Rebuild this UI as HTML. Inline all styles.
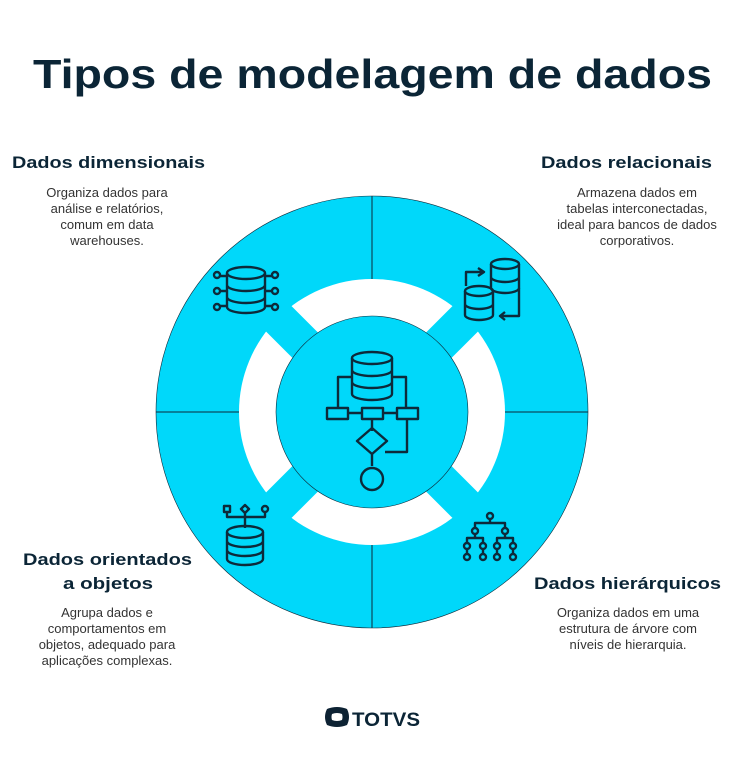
<!DOCTYPE html>
<html><head><meta charset="utf-8"><style>
html,body{margin:0;padding:0;background:#fff;}
svg{display:block}
.t{font-family:"Liberation Sans",sans-serif;font-weight:bold;fill:#0b2536}
.b{font-family:"Liberation Sans",sans-serif;font-size:13px;fill:#333;text-anchor:middle}
.ic{fill:none;stroke:#0d2a3a;stroke-width:2.4;stroke-linejoin:round}
</style></head><body>
<svg width="745" height="760" viewBox="0 0 745 760" xmlns="http://www.w3.org/2000/svg">
<text class="t" x="33" y="88" font-size="41" textLength="679" lengthAdjust="spacingAndGlyphs">Tipos de modelagem de dados</text>

<text class="t" x="12" y="168" font-size="17" textLength="193" lengthAdjust="spacingAndGlyphs">Dados dimensionais</text>
<text class="b" x="107" y="197">Organiza dados para</text>
<text class="b" x="107" y="213">análise e relatórios,</text>
<text class="b" x="107" y="229">comum em data</text>
<text class="b" x="107" y="245">warehouses.</text>

<text class="t" x="541" y="168" font-size="17" textLength="171" lengthAdjust="spacingAndGlyphs">Dados relacionais</text>
<text class="b" x="637" y="197">Armazena dados em</text>
<text class="b" x="637" y="213">tabelas interconectadas,</text>
<text class="b" x="637" y="229">ideal para bancos de dados</text>
<text class="b" x="637" y="245">corporativos.</text>

<text class="t" x="23" y="565" font-size="17" textLength="169" lengthAdjust="spacingAndGlyphs">Dados orientados</text>
<text class="t" x="63" y="589" font-size="17" textLength="90" lengthAdjust="spacingAndGlyphs">a objetos</text>
<text class="b" x="107" y="617">Agrupa dados e</text>
<text class="b" x="107" y="633">comportamentos em</text>
<text class="b" x="107" y="649">objetos, adequado para</text>
<text class="b" x="107" y="665">aplicações complexas.</text>

<text class="t" x="534" y="589" font-size="17" textLength="187" lengthAdjust="spacingAndGlyphs">Dados hierárquicos</text>
<text class="b" x="628" y="617">Organiza dados em uma</text>
<text class="b" x="628" y="633">estrutura de árvore com</text>
<text class="b" x="628" y="649">níveis de hierarquia.</text>

<circle cx="372" cy="412" r="216" fill="#00d8fa" stroke="#0d2a3a" stroke-width="0.6"/>
<circle cx="372" cy="412" r="133" fill="#fff"/>
<g fill="#00d8fa">
<rect x="354" y="270" width="36" height="284" transform="rotate(45 372 412)"/>
<rect x="354" y="270" width="36" height="284" transform="rotate(-45 372 412)"/>
</g>
<circle cx="372" cy="412" r="96" fill="#00d8fa" stroke="#0d2a3a" stroke-width="0.6"/>
<g stroke="#0d2a3a" stroke-width="1">
<line x1="372" y1="196" x2="372" y2="279"/>
<line x1="372" y1="545" x2="372" y2="628"/>
<line x1="156" y1="412" x2="239" y2="412"/>
<line x1="505" y1="412" x2="588" y2="412"/>
</g>

<g class="ic" stroke-width="3.2">
<ellipse cx="372" cy="358" rx="20" ry="6"/>
<path d="M352 358v36a20 6 0 0 0 40 0v-36M352 370a20 6 0 0 0 40 0M352 382a20 6 0 0 0 40 0"/>
<path d="M352 377h-14v30M392 377h14v30"/>
<rect x="327" y="408" width="21" height="11"/><rect x="362" y="408" width="21" height="11"/><rect x="397" y="408" width="21" height="11"/>
<path d="M348 413h14M383 413h14M372 419v12M407 419v33h-22"/>
<path d="M372 428l15 13-15 13-15-13z"/>
<path d="M372 454v12"/><circle cx="372" cy="479" r="11"/>
</g>

<g class="ic">
<ellipse cx="246" cy="273" rx="19" ry="6"/>
<path d="M227 273v34a19 6 0 0 0 38 0v-34M227 285a19 6 0 0 0 38 0M227 297a19 6 0 0 0 38 0"/>
<path d="M227 276h-8M227 291h-8M227 306h-8M265 276h8M265 291h8M265 306h8"/>
<circle cx="217" cy="275" r="3"/><circle cx="217" cy="291" r="3"/><circle cx="217" cy="307" r="3"/>
<circle cx="275" cy="275" r="3"/><circle cx="275" cy="291" r="3"/><circle cx="275" cy="307" r="3"/>
</g>
<g class="ic" stroke-width="1.8">
<ellipse cx="505" cy="264" rx="14" ry="5"/>
<path d="M491 264v24a14 5 0 0 0 28 0v-24M491 277a14 5 0 0 0 28 0"/>
<ellipse cx="479" cy="291" rx="14" ry="5"/>
<path d="M465 291v24a14 5 0 0 0 28 0v-24M465 304a14 5 0 0 0 28 0"/>
<path d="M466 286v-14h17M478 268l6 4-6 4M519 288v28h-17M505 312l-5 4 5 4"/>
</g>
<g class="ic">
<rect x="224" y="506" width="6" height="6"/><path d="M245 505l4 4-4 4-4-4z"/><circle cx="265" cy="509" r="3"/>
<path d="M227 512v5h38v-5M245 513v15"/>
<ellipse cx="245" cy="532" rx="18" ry="6"/>
<path d="M227 532v27a18 6 0 0 0 36 0v-27M227 541a18 6 0 0 0 36 0M227 550a18 6 0 0 0 36 0"/>
</g>
<g class="ic" stroke-width="1.8">
<circle cx="490" cy="516" r="3"/><path d="M490 519v4h-15v6M490 523h15v6"/>
<circle cx="475" cy="531" r="3"/><circle cx="505" cy="531" r="3"/>
<path d="M475 534v4h-8v6M475 538h8v6M505 534v4h-8v6M505 538h8v6"/>
<circle cx="467" cy="546" r="3"/><circle cx="483" cy="546" r="3"/><circle cx="497" cy="546" r="3"/><circle cx="513" cy="546" r="3"/>
<path d="M467 549v5M483 549v5M497 549v5M513 549v5"/>
<circle cx="467" cy="557" r="3"/><circle cx="483" cy="557" r="3"/><circle cx="497" cy="557" r="3"/><circle cx="513" cy="557" r="3"/>
</g>

<path d="M327 709q10-4 20 0q4 8 0 16q-10 4-20 0q-4-8 0-16z" fill="#0d2233"/>
<path d="M332 714q5-2 10 0q1 3 0 6q-5 2-10 0q-1-3 0-6z" fill="#fff"/>
<text class="t" x="352" y="726" font-size="19" fill="#0d2233" textLength="68" lengthAdjust="spacingAndGlyphs">TOTVS</text>
</svg>
</body></html>
